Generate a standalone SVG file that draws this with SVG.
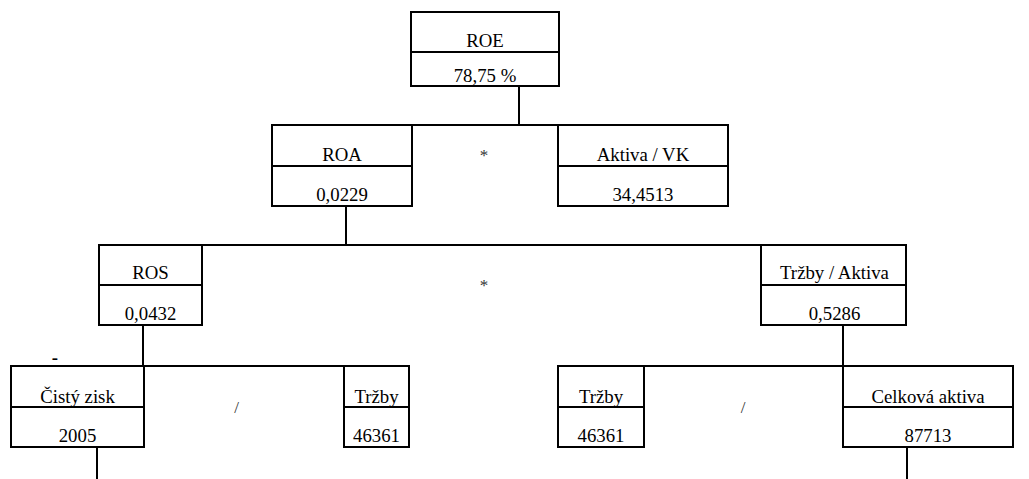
<svg xmlns="http://www.w3.org/2000/svg" width="1029" height="479" viewBox="0 0 1029 479">
<style>
.box{fill:#fff;stroke:#000;stroke-width:2}
.div{stroke:#000;stroke-width:2}
.con{stroke:#000;stroke-width:2;fill:none}
.t{font-family:'Liberation Serif','Times New Roman',serif;font-size:18.8px;fill:#000;text-anchor:middle}
.op{font-size:17px;fill:#333}
.minus{font-weight:bold}
</style>
<rect width="1029" height="479" fill="#fff"/>
<g id="connectors">
<path class="con" d="M519,86 V125 M272,125 H728 M346,206 V245 M99,245 H906 M143,325 V366 M843,325 V366 M11,366 H409 M558,366 H1013 M97,447 V479 M907,447 V479"/>
</g>
<g class="t">
<g id="roe">
<rect class="box" x="411" y="12" width="148" height="74"/>
<line class="div" x1="411" y1="52" x2="559" y2="52"/>
<text x="485" y="47">ROE</text>
<text x="485" y="82">78,75 %</text>
</g>
<g id="roa">
<rect class="box" x="272" y="125" width="140" height="81"/>
<line class="div" x1="272" y1="166" x2="412" y2="166"/>
<text x="342" y="161">ROA</text>
<text x="342" y="201">0,0229</text>
</g>
<g id="op-roe">
<text class="op" x="484" y="161">*</text>
</g>
<g id="aktiva-vk">
<rect class="box" x="558" y="125" width="170" height="81"/>
<line class="div" x1="558" y1="166" x2="728" y2="166"/>
<text x="643" y="161">Aktiva / VK</text>
<text x="643" y="201">34,4513</text>
</g>
<g id="ros">
<rect class="box" x="99" y="245" width="103" height="80"/>
<line class="div" x1="99" y1="285" x2="202" y2="285"/>
<text x="150.5" y="279">ROS</text>
<text x="150.5" y="320">0,0432</text>
</g>
<g id="op-roa">
<text class="op" x="484" y="291">*</text>
</g>
<g id="trzby-aktiva">
<rect class="box" x="761" y="245" width="145" height="80"/>
<line class="div" x1="761" y1="285" x2="906" y2="285"/>
<text x="834.5" y="279">Tržby / Aktiva</text>
<text x="834.5" y="320">0,5286</text>
</g>
<g id="minus">
<text class="minus" x="55" y="364">-</text>
</g>
<g id="cisty-zisk">
<rect class="box" x="11" y="366" width="133" height="81"/>
<line class="div" x1="11" y1="407" x2="144" y2="407"/>
<text x="77.5" y="403">Čistý zisk</text>
<text x="77.5" y="442">2005</text>
</g>
<g id="op-ros">
<text class="op" x="236.5" y="413">/</text>
</g>
<g id="trzby1">
<rect class="box" x="344" y="366" width="65" height="81"/>
<line class="div" x1="344" y1="407" x2="409" y2="407"/>
<text x="376.5" y="403">Tržby</text>
<text x="376.5" y="442">46361</text>
</g>
<g id="trzby2">
<rect class="box" x="558" y="366" width="86" height="81"/>
<line class="div" x1="558" y1="407" x2="644" y2="407"/>
<text x="601" y="403">Tržby</text>
<text x="601" y="442">46361</text>
</g>
<g id="op-ta">
<text class="op" x="743" y="413">/</text>
</g>
<g id="celkova-aktiva">
<rect class="box" x="843" y="366" width="170" height="81"/>
<line class="div" x1="843" y1="407" x2="1013" y2="407"/>
<text x="928" y="403">Celková aktiva</text>
<text x="928" y="442">87713</text>
</g>
</g>
</svg>
